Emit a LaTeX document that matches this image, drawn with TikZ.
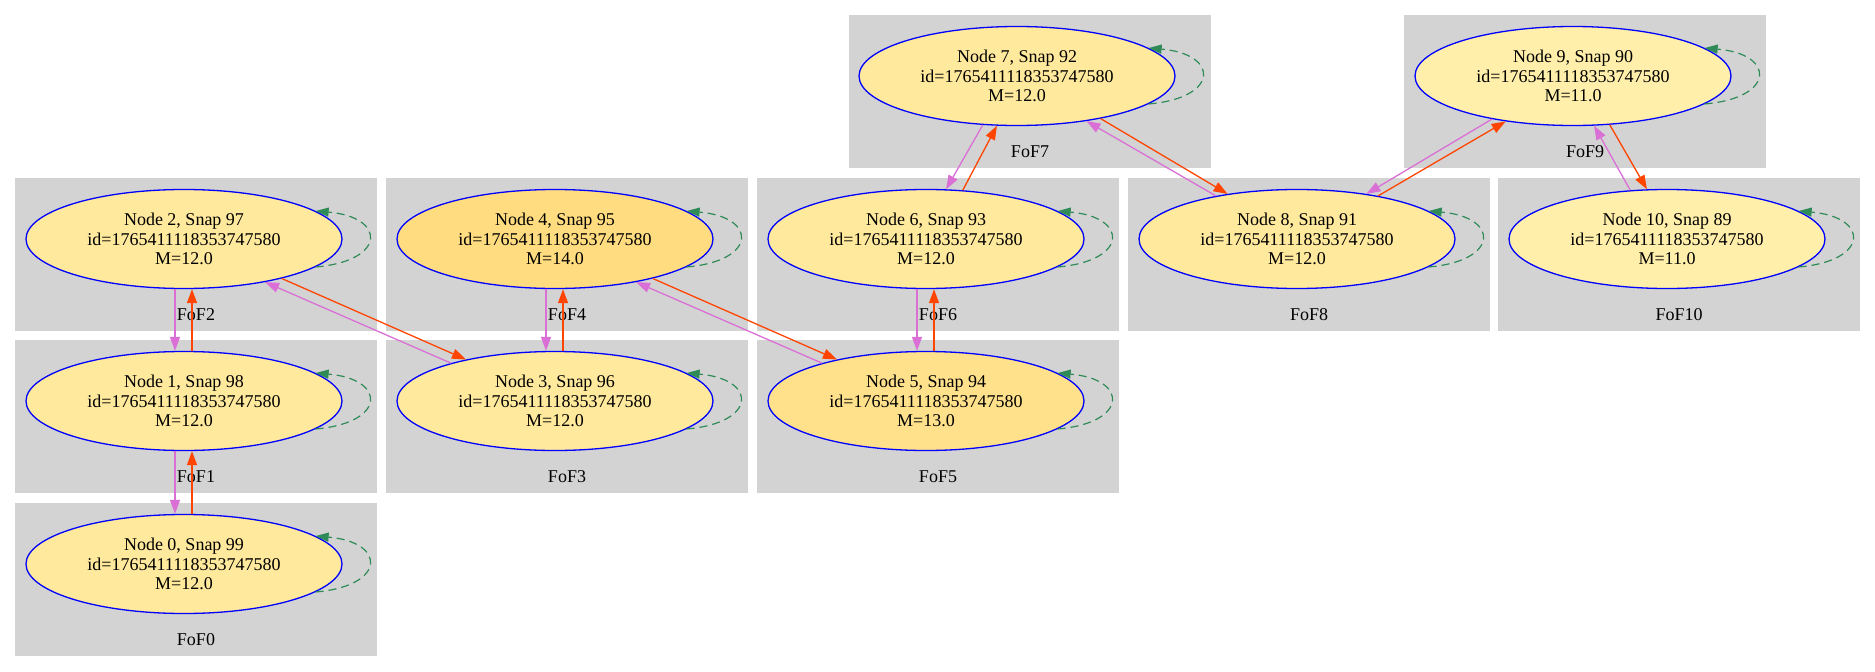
\documentclass[tikz,border=0pt]{standalone}
\usepackage{fontspec}
\setmainfont{Liberation Serif}
\usetikzlibrary{arrows.meta,shapes.geometric}
\definecolor{clgray}{HTML}{D3D3D3}
\definecolor{orchidc}{HTML}{DA70D6}
\definecolor{orangeredc}{HTML}{FF4500}
\definecolor{seagreenc}{HTML}{2E8B57}
\definecolor{mfourteen}{HTML}{FFDC80}
\definecolor{mthirteen}{HTML}{FFE18C}
\definecolor{mtwelve}{HTML}{FFE99D}
\definecolor{meleven}{HTML}{FFEFAB}
\newcommand{\fsz}{\fontsize{18}{19.5}\selectfont}
\tikzset{
  fofnode/.style={ellipse, draw=blue, line width=1.3pt, minimum width=316pt, minimum height=99pt,
    inner sep=0pt, align=center, font=\fsz},
  clbox/.style={rectangle, fill=clgray, draw=none, minimum width=362pt, minimum height=153pt,
    inner sep=0pt, anchor=north west},
  cllabel/.style={font=\fsz, inner sep=0pt},
  pe/.style={draw=orchidc, line width=1.3pt, -{Triangle[length=14pt,width=10pt]}},
  oe/.style={draw=orangeredc, line width=1.3pt, -{Triangle[length=14pt,width=10pt]}},
  selfloop/.style={draw=seagreenc, line width=1.2pt, dash pattern=on 8pt off 5pt,
    -{Triangle[length=13pt,width=9pt]}},
}
\newcommand{\fofloop}[1]{\draw[selfloop] (#1.-12.5) .. controls +(71,-6) and +(71,6) .. (#1.12.5);}
\begin{document}
\begin{tikzpicture}[x=1pt,y=-1pt]
\useasboundingbox (0,0) rectangle (1875,672);
% cluster boxes
\node[clbox] (c0) at (15,503) {};
\node[clbox] (c1) at (15,340) {};
\node[clbox] (c2) at (15,178) {};
\node[clbox] (c3) at (386,340) {};
\node[clbox] (c4) at (386,178) {};
\node[clbox] (c5) at (757,340) {};
\node[clbox] (c6) at (757,178) {};
\node[clbox] (c7) at (849,15) {};
\node[clbox] (c8) at (1128,178) {};
\node[clbox] (c9) at (1404,15) {};
\node[clbox] (c10) at (1498,178) {};
% cluster labels
\node[cllabel] (l0) at (196,640) {FoF0};
\node[cllabel] (l1) at (196,477) {FoF1};
\node[cllabel] (l2) at (196,315) {FoF2};
\node[cllabel] (l3) at (567,477) {FoF3};
\node[cllabel] (l4) at (567,315) {FoF4};
\node[cllabel] (l5) at (938,477) {FoF5};
\node[cllabel] (l6) at (938,315) {FoF6};
\node[cllabel] (l7) at (1030,152) {FoF7};
\node[cllabel] (l8) at (1309,315) {FoF8};
\node[cllabel] (l9) at (1585,152) {FoF9};
\node[cllabel] (l10) at (1679,315) {FoF10};
% nodes
\node[fofnode, fill=mtwelve] (n0) at (184,564) {Node 0, Snap 99\\id=1765411118353747580\\M=12.0};
\node[fofnode, fill=mtwelve] (n1) at (184,401) {Node 1, Snap 98\\id=1765411118353747580\\M=12.0};
\node[fofnode, fill=mtwelve] (n2) at (184,239) {Node 2, Snap 97\\id=1765411118353747580\\M=12.0};
\node[fofnode, fill=mtwelve] (n3) at (555,401) {Node 3, Snap 96\\id=1765411118353747580\\M=12.0};
\node[fofnode, fill=mfourteen] (n4) at (555,239) {Node 4, Snap 95\\id=1765411118353747580\\M=14.0};
\node[fofnode, fill=mthirteen] (n5) at (926,401) {Node 5, Snap 94\\id=1765411118353747580\\M=13.0};
\node[fofnode, fill=mtwelve] (n6) at (926,239) {Node 6, Snap 93\\id=1765411118353747580\\M=12.0};
\node[fofnode, fill=mtwelve] (n7) at (1017,76) {Node 7, Snap 92\\id=1765411118353747580\\M=12.0};
\node[fofnode, fill=mtwelve] (n8) at (1297,239) {Node 8, Snap 91\\id=1765411118353747580\\M=12.0};
\node[fofnode, fill=meleven] (n9) at (1573,76) {Node 9, Snap 90\\id=1765411118353747580\\M=11.0};
\node[fofnode, fill=meleven] (n10) at (1667,239) {Node 10, Snap 89\\id=1765411118353747580\\M=11.0};
% self loops
\fofloop{n0}\fofloop{n1}\fofloop{n2}\fofloop{n3}\fofloop{n4}\fofloop{n5}
\fofloop{n6}\fofloop{n7}\fofloop{n8}\fofloop{n9}\fofloop{n10}
% vertical pairs
\draw[pe] ([xshift=-9pt]n2.south) -- ([xshift=-9pt]n1.north);
\draw[oe] ([xshift=8pt]n1.north) -- ([xshift=8pt]n2.south);
\draw[pe] ([xshift=-9pt]n1.south) -- ([xshift=-9pt]n0.north);
\draw[oe] ([xshift=8pt]n0.north) -- ([xshift=8pt]n1.south);
\draw[pe] ([xshift=-9pt]n4.south) -- ([xshift=-9pt]n3.north);
\draw[oe] ([xshift=8pt]n3.north) -- ([xshift=8pt]n4.south);
\draw[pe] ([xshift=-9pt]n6.south) -- ([xshift=-9pt]n5.north);
\draw[oe] ([xshift=8pt]n5.north) -- ([xshift=8pt]n6.south);
% diagonal pairs
\draw[oe] (n2.-22.4) -- (n3.155.6);
\draw[pe] (n3.160) -- (n2.-28.8);
\draw[oe] (n4.-22.4) -- (n5.155.6);
\draw[pe] (n5.160) -- (n4.-28.8);
\draw[pe] (n7.-125.9) -- (n6.68.1);
\draw[oe] (n6.53.2) -- (n7.-112.2);
\draw[oe] (n7.-27.8) -- (n8.147.1);
\draw[pe] (n8.152.4) -- (n7.-33);
\draw[pe] (n9.-152.2) -- (n8.33.4);
\draw[oe] (n8.28) -- (n9.-146.8);
\draw[oe] (n9.-53.2) -- (n10.112.2);
\draw[pe] (n10.127.4) -- (n9.-67.5);
\end{tikzpicture}
\end{document}
